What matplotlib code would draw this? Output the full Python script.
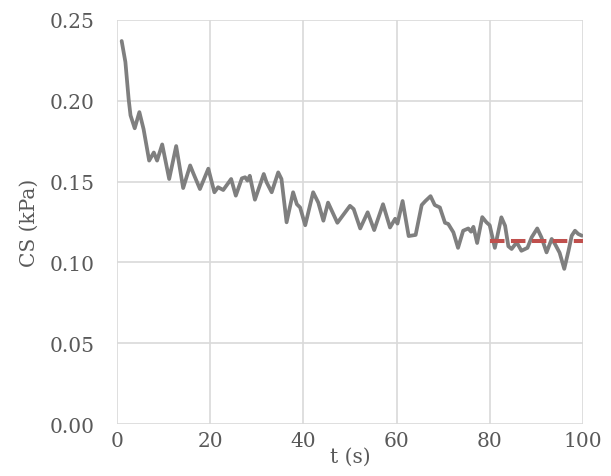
import matplotlib
matplotlib.use("Agg")
import matplotlib.pyplot as plt

# values
t = [1, 1.8, 2.5, 2.9, 3.8, 4.8, 5.7, 6.9, 7.9, 8.6, 9.7, 11.2, 12.7, 14.2,
     15.7, 16.4, 17.8, 19.6, 20.9, 21.7, 22.8, 24.5, 25.5, 26.8, 27.5, 28.0,
     28.5, 29.6, 31.5, 32.1, 33.2, 34.6, 35.3, 36.4, 37.8, 38.6, 39.3, 40.4,
     42.1, 43.2, 44.3, 45.3, 46.1, 47.3, 50.0, 50.8, 52.2, 53.8, 55.2, 57.1,
     58.6, 59.7, 60.2, 61.3, 62.6, 64.1, 65.4, 66.2, 67.3, 68.2, 69.3, 70.4,
     71.1, 72.2, 73.2, 74.3, 75.4, 76.0, 76.5, 77.3, 78.4, 79.3, 80.0, 81.1,
     82.5, 83.3, 84.0, 84.7, 85.8, 86.8, 88.1, 89.0, 90.2, 91.1, 92.2, 93.3,
     94.0, 95.0, 96.0, 96.9, 97.6, 98.3, 99.0, 99.8]
cs = [0.237, 0.224, 0.201, 0.191, 0.183, 0.193, 0.1825, 0.163, 0.168, 0.163,
      0.173, 0.1516, 0.172, 0.146, 0.160, 0.155, 0.1454, 0.158, 0.1434,
      0.1465, 0.1448, 0.1516, 0.1413, 0.152, 0.1527, 0.1506, 0.1536, 0.1388,
      0.1547, 0.1496, 0.1434, 0.1557, 0.1516, 0.1248, 0.1434, 0.136, 0.134,
      0.1230, 0.1434, 0.137, 0.1258, 0.137, 0.132, 0.1245, 0.135, 0.133,
      0.121, 0.131, 0.1200, 0.136, 0.1216, 0.127, 0.124, 0.138, 0.1163,
      0.117, 0.1355, 0.138, 0.141, 0.1355, 0.134, 0.1245, 0.1238, 0.1186,
      0.109, 0.1196, 0.121, 0.119, 0.122, 0.112, 0.128, 0.1248, 0.123,
      0.109, 0.1279, 0.1227, 0.110, 0.1083, 0.1124, 0.1072, 0.109, 0.1155,
      0.121, 0.1155, 0.1062, 0.1145, 0.1114, 0.106, 0.096, 0.107, 0.1165,
      0.1196, 0.1176, 0.1165]

# steady-state level
t_ss = [80, 100]
cs_ss = [0.113, 0.113]

xticks = [0, 20, 40, 60, 80, 100]
yticks = [0.00, 0.05, 0.10, 0.15, 0.20, 0.25]

plt.rcParams['font.family'] = ['DejaVu Serif']

fig = plt.figure(figsize=(6.11, 4.77), dpi=100)
ax = fig.add_axes([0.1915, 0.109, 0.7625, 0.847])

ax.plot(t, cs, color='#7f7f7f', lw=2.7, solid_joinstyle='round',
        solid_capstyle='round', zorder=3)
ax.plot(t_ss, cs_ss, color='#c0504d', lw=2.9, dashes=(3.6, 1.6), zorder=4)

ax.set_xlim(0, 100)
ax.set_ylim(0, 0.25)
ax.set_xticks(xticks)
ax.set_yticks(yticks)
ax.set_yticklabels(['%.2f' % v for v in yticks])
ax.grid(True, color='#d9d9d9', lw=1.2)
ax.set_axisbelow(True)
for s in ax.spines.values():
    s.set_visible(False)
ax.tick_params(length=0, labelsize=14.5, labelcolor='#595959')
ax.tick_params(axis='y', pad=16)
ax.tick_params(axis='x', pad=5)

ax.set_xlabel('t (s)', fontsize=14.5, color='#595959', labelpad=-2)
ax.set_ylabel('CS (kPa)', fontsize=14.5, color='#595959', labelpad=8)

fig.savefig('out.png', dpi=100)
